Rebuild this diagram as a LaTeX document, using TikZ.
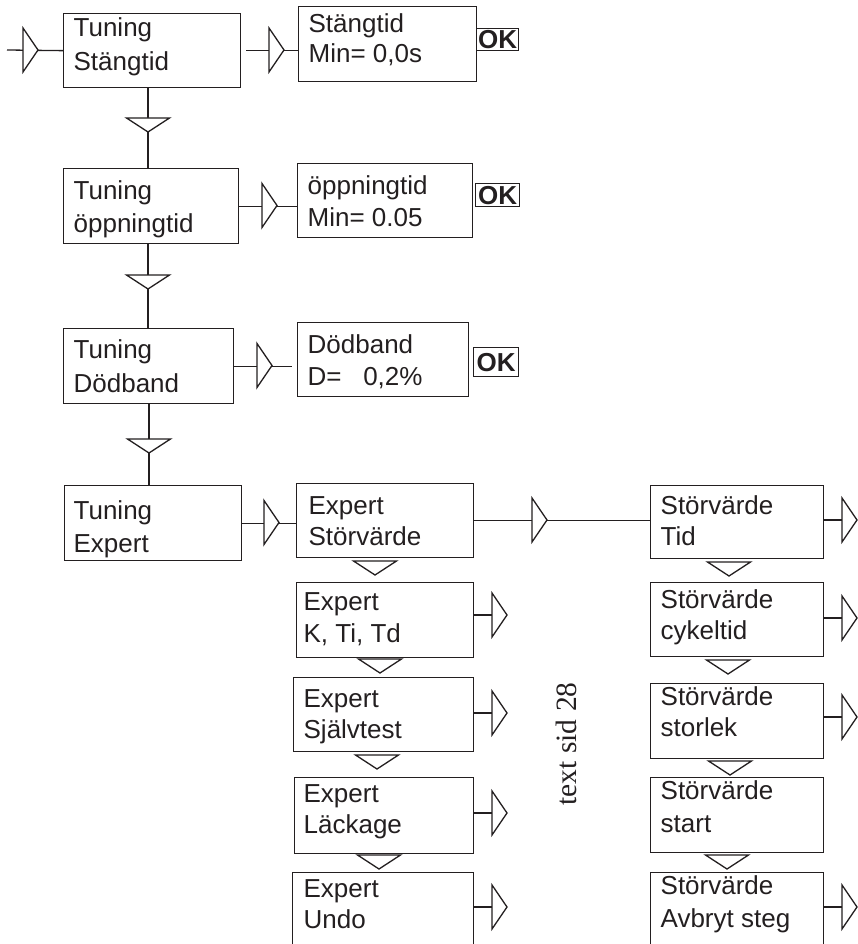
\documentclass[tikz,border=0pt]{standalone}
\usepackage{fontspec}
\setmainfont{Liberation Sans}
\newfontfamily\serifface{Liberation Serif}
\definecolor{ink}{HTML}{231F20}
\newcommand\mkbox[5]{\node[box, anchor=north west, minimum width={(#4-#2)*1pt}, minimum height={(#5-#3)*1pt}] (#1) at (#2,#3) {};}
\begin{document}
\begin{tikzpicture}[x=1pt,y=-1pt, line width=1.3pt, color=ink,
  box/.style={draw, rectangle, inner sep=0pt},
  lbl/.style={anchor=base west, inner sep=0pt, font=\fontsize{26}{31}\selectfont},
  okbox/.style={draw, rectangle, inner sep=0pt, anchor=north west, font=\bfseries\fontsize{26}{31}\selectfont},
  rtri/.pic={\filldraw[fill=white] (0,-22) -- (15,0) -- (0,22) -- cycle;},
  dtri/.pic={\filldraw[fill=white] (-21.5,0) -- (21.5,0) -- (0,14) -- cycle;}]
\useasboundingbox (0,0) rectangle (858,944);
\clip (0,0) rectangle (858,944);
% ---------- left column ----------
\mkbox{ts}{63}{13}{240}{87}
\node[lbl] (tsa) at (73,37) {Tuning};
\node[lbl] (tsb) at (73,71) {Stängtid};
\mkbox{sm}{298}{6}{476}{81}
\node[lbl] (sma) at (308,33) {Stängtid};
\node[lbl] (smb) at (308,63) {Min= 0,0s};
\node[okbox, minimum width=42pt, minimum height=22pt] (ok1) at (476,28) {OK};

\mkbox{to}{63}{168}{238}{243}
\node[lbl] (toa) at (73,200) {Tuning};
\node[lbl] (tob) at (73,232) {öppningtid};
\mkbox{om}{297}{163}{472}{237}
\node[lbl] (oma) at (307,194) {öppningtid};
\node[lbl] (omb) at (307,226) {Min= 0.05};
\node[okbox, minimum width=44pt, minimum height=23pt] (ok2) at (475,183) {OK};

\mkbox{td}{63}{328}{233}{403}
\node[lbl] (tda) at (73,358) {Tuning};
\node[lbl] (tdb) at (73,392) {Dödband};
\mkbox{dd}{297}{322}{468}{396}
\node[lbl] (dda) at (307,353) {Dödband};
\node[lbl] (ddb) at (307,385) {D=\ \ \ 0,2\%};
\node[okbox, minimum width=45pt, minimum height=29pt] (ok3) at (473,347) {OK};

\mkbox{te}{64}{485}{241}{560}
\node[lbl] (tea) at (73,519) {Tuning};
\node[lbl] (teb) at (73,552) {Expert};

% ---------- expert column ----------
\mkbox{es}{296}{483}{473}{557}
\node[lbl] (esa) at (308,514) {Expert};
\node[lbl] (esb) at (308,545) {Störvärde};
\mkbox{ek}{296}{582}{473}{657}
\node[lbl] (eka) at (303,610) {Expert};
\node[lbl] (ekb) at (303,642) {K, Ti, Td};
\mkbox{ej}{293}{677}{473}{751}
\node[lbl] (eja) at (303,707) {Expert};
\node[lbl] (ejb) at (303,738) {Självtest};
\mkbox{el}{294}{777}{473}{853}
\node[lbl] (ela) at (303,802) {Expert};
\node[lbl] (elb) at (303,833) {Läckage};
\mkbox{eu}{292}{872}{473}{962}
\node[lbl] (eua) at (303,897) {Expert};
\node[lbl] (eub) at (303,928) {Undo};

% ---------- störvärde column ----------
\mkbox{st}{650}{485}{823}{558}
\node[lbl] (sta) at (660,514) {Störvärde};
\node[lbl] (stb) at (660,545) {Tid};
\mkbox{sc}{650}{582}{823}{656}
\node[lbl] (sca) at (660,608) {Störvärde};
\node[lbl] (scb) at (660,639) {cykeltid};
\mkbox{ss}{650}{683}{823}{758}
\node[lbl] (ssa) at (660,705) {Störvärde};
\node[lbl] (ssb) at (660,736) {storlek};
\mkbox{sx}{650}{777}{823}{852}
\node[lbl] (sxa) at (660,799) {Störvärde};
\node[lbl] (sxb) at (660,832) {start};
\mkbox{sa}{650}{872}{823}{962}
\node[lbl] (saa) at (660,894) {Störvärde};
\node[lbl] (sab) at (660,927) {Avbryt steg};

\node[rotate=90, anchor=base west, inner sep=0pt, font=\serifface\fontsize{29.5}{35}\selectfont] (side) at (576,806) {text sid 28};

% ---------- horizontal connectors ----------
\coordinate (in) at (7,50);
\draw (in) -- (ts.west);
\pic at (23,50) {rtri};
\draw[shorten <=5pt] (ts.east) -- (ts.east -| sm.west);
\pic at (269,50) {rtri};
\draw (to.east) -- (to.east -| om.west);
\pic at (262,205.5) {rtri};
\draw[shorten >=5pt] (td.east) -- (td.east -| dd.west);
\pic at (257,365.5) {rtri};
\draw (te.east) -- (te.east -| es.west);
\pic at (264,522.5) {rtri};
\draw (es.east) -- (es.east -| st.west);
\pic at (532,520) {rtri};

% ---------- vertical connectors ----------
\draw (148,0 |- ts.south) -- (148,0 |- to.north);
\pic at (148,118) {dtri};
\draw (148,0 |- to.south) -- (148,0 |- td.north);
\pic at (148,275) {dtri};
\draw (149,0 |- td.south) -- (149,0 |- te.north);
\pic at (149,439) {dtri};

% ---------- down markers between stacked boxes ----------
\pic at (375,561) {dtri};
\pic at (380,659) {dtri};
\pic at (377,755) {dtri};
\pic at (379,855) {dtri};
\pic at (729,562) {dtri};
\pic at (728,660) {dtri};
\pic at (730,761) {dtri};
\pic at (727,855) {dtri};

% ---------- stubs ----------
\coordinate (k1) at (492,615);
\draw (ek.east |- k1) -- (k1);
\pic at (k1) {rtri};
\coordinate (k2) at (492,713);
\draw (ej.east |- k2) -- (k2);
\pic at (k2) {rtri};
\coordinate (k3) at (492,813);
\draw (el.east |- k3) -- (k3);
\pic at (k3) {rtri};
\coordinate (k4) at (492,907);
\draw (eu.east |- k4) -- (k4);
\pic at (k4) {rtri};
\coordinate (s1) at (842,520);
\draw (st.east |- s1) -- (s1);
\pic at (s1) {rtri};
\coordinate (s2) at (842,618);
\draw (sc.east |- s2) -- (s2);
\pic at (s2) {rtri};
\coordinate (s3) at (842,717);
\draw (ss.east |- s3) -- (s3);
\pic at (s3) {rtri};
\coordinate (s4) at (842,907);
\draw (sa.east |- s4) -- (s4);
\pic at (s4) {rtri};
\end{tikzpicture}
\end{document}
